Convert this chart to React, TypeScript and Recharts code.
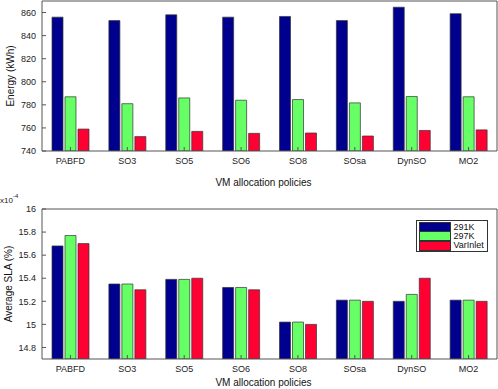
import React from 'react';
import { BarChart, Bar, XAxis, YAxis, Legend } from 'recharts';

const categories = ['PABFD', 'SO3', 'SO5', 'SO6', 'SO8', 'SOsa', 'DynSO', 'MO2'];
const seriesNames = ['291K', '297K', 'VarInlet'];
const energy291 = [856, 853, 858, 856, 856.6, 853, 864.6, 859];
const energy297 = [787, 781, 786, 784, 784.6, 781.7, 787.2, 787];
const energyVar = [759, 752.5, 757, 755.3, 755.6, 753, 757.8, 758.3];
const sla291 = [15.68, 15.35, 15.39, 15.32, 15.02, 15.21, 15.2, 15.21];
const sla297 = [15.77, 15.35, 15.39, 15.32, 15.02, 15.21, 15.26, 15.21];
const slaVar = [15.7, 15.3, 15.4, 15.3, 15.0, 15.2, 15.4, 15.2];
const energyTicks = [740, 760, 780, 800, 820, 840, 860];
const slaTicks = [14.8, 15, 15.2, 15.4, 15.6, 15.8, 16];

const colors = ['#00008F', '#66FF66', '#FF0033'];
const FONT = '"Liberation Sans", Arial, Helvetica, sans-serif';
const AXIS = '#555';

const energyData = categories.map((name, i) => ({ name, a: energy291[i], b: energy297[i], c: energyVar[i] }));
const slaData = categories.map((name, i) => ({ name, a: sla291[i], b: sla297[i], c: slaVar[i] }));

const tickStyle = { fontSize: 9, fill: '#222', fontFamily: FONT };

const LegendBox = (props: any) => {
  const payload = props.payload || [];
  return (
    <div style={{ border: '1px solid #333', background: '#fff', padding: '2px 2px 1px 2px', fontFamily: FONT, fontSize: 9, color: '#111', width: 66 }}>
      {payload.map((p: any) => (
        <div key={p.value} style={{ display: 'flex', alignItems: 'center', height: 9.3 }}>
          <span style={{ display: 'inline-block', width: 30, height: 8, background: p.color, border: '0.5px solid #333', marginRight: 3 }} />
          <span style={{ lineHeight: '9px' }}>{p.value}</span>
        </div>
      ))}
    </div>
  );
};

const barProps = { stroke: '#333', strokeWidth: 0.7, isAnimationActive: false };

export default function App() {
  return (
    <div style={{ position: 'absolute', left: 0, top: 0, width: 498, height: 389, background: '#fff', fontFamily: FONT }}>
      <BarChart width={498} height={190} data={energyData} margin={{ top: 1, right: 1, left: 0, bottom: 1 }} barCategoryGap={10} barGap={2}>
        <XAxis dataKey="name" height={38} tickSize={-4} tickMargin={11} tick={tickStyle} stroke={AXIS}
          label={{ value: 'VM allocation policies', position: 'insideBottom', offset: 3, dx: -6, style: { fontSize: 10, fill: '#111', fontFamily: FONT } }} />
        <XAxis xAxisId="top" dataKey="name" orientation="top" mirror tick={false} tickSize={4} stroke={AXIS} />
        <YAxis width={42} domain={[740, 870]} ticks={energyTicks} allowDataOverflow tickSize={-4} tickMargin={10} tick={tickStyle} stroke={AXIS}
          label={{ value: 'Energy (kWh)', angle: -90, position: 'insideLeft', offset: 10, style: { textAnchor: 'middle', fontSize: 10, fill: '#111', fontFamily: FONT } }} />
        <YAxis yAxisId="right" orientation="right" mirror domain={[740, 870]} ticks={energyTicks} allowDataOverflow tick={false} tickSize={4} stroke={AXIS} />
        <Bar dataKey="a" name={seriesNames[0]} fill={colors[0]} {...barProps} />
        <Bar dataKey="b" name={seriesNames[1]} fill={colors[1]} {...barProps} />
        <Bar dataKey="c" name={seriesNames[2]} fill={colors[2]} {...barProps} />
      </BarChart>
      <div style={{ position: 'absolute', left: 0, top: 194, fontSize: 8, color: '#222', fontFamily: FONT }}>
        x10<sup style={{ fontSize: 6, position: 'relative', top: -1 }}>-4</sup>
      </div>
      <BarChart width={498} height={199} data={slaData} margin={{ top: 19, right: 1, left: 0, bottom: 1 }} barCategoryGap={10} barGap={2}>
        <XAxis dataKey="name" height={29} tickSize={-4} tickMargin={11} tick={tickStyle} stroke={AXIS}
          label={{ value: 'VM allocation policies', position: 'insideBottom', offset: 2, dx: -6, style: { fontSize: 10, fill: '#111', fontFamily: FONT } }} />
        <XAxis xAxisId="top" dataKey="name" orientation="top" mirror tick={false} tickSize={4} stroke={AXIS} />
        <YAxis width={42} domain={[14.7, 16]} ticks={slaTicks} allowDataOverflow tickSize={-4} tickMargin={10} tick={tickStyle} stroke={AXIS}
          label={{ value: 'Average SLA (%)', angle: -90, position: 'insideLeft', offset: 8, style: { textAnchor: 'middle', fontSize: 10, fill: '#111', fontFamily: FONT } }} />
        <YAxis yAxisId="right" orientation="right" mirror domain={[14.7, 16]} ticks={slaTicks} allowDataOverflow tick={false} tickSize={4} stroke={AXIS} />
        <Legend layout="vertical" align="center" verticalAlign="middle" content={<LegendBox />}
          wrapperStyle={{ top: 29.5, left: 415.5, width: 72 }} />
        <Bar dataKey="a" name={seriesNames[0]} fill={colors[0]} {...barProps} />
        <Bar dataKey="b" name={seriesNames[1]} fill={colors[1]} {...barProps} />
        <Bar dataKey="c" name={seriesNames[2]} fill={colors[2]} {...barProps} />
      </BarChart>
    </div>
  );
}
